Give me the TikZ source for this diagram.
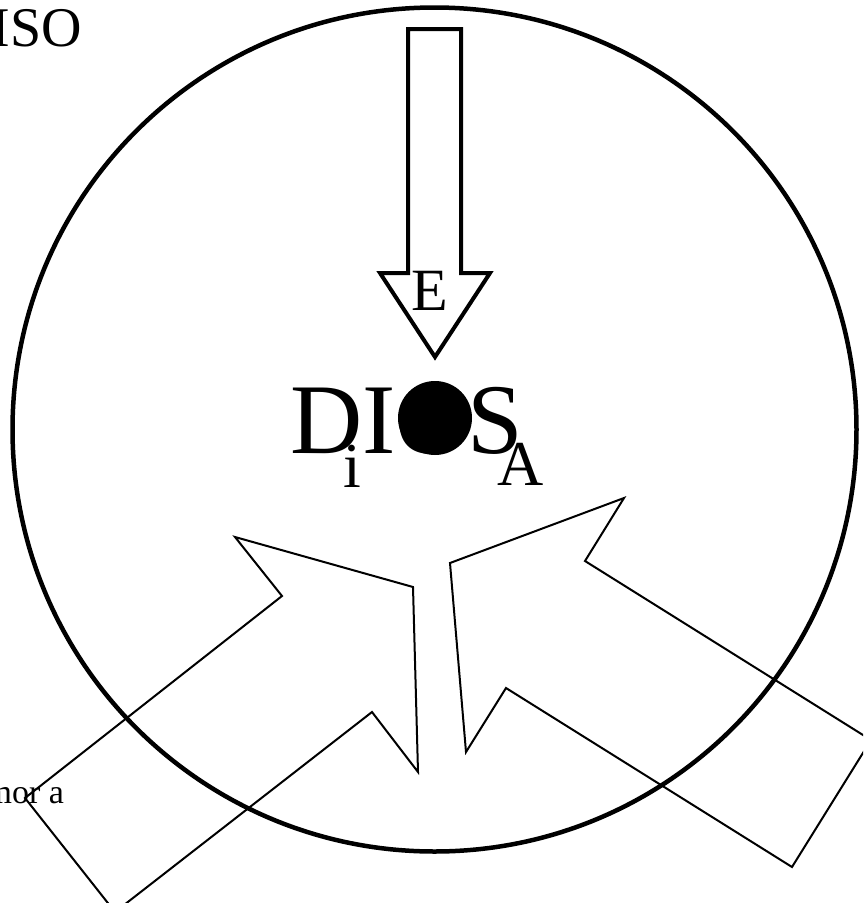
\documentclass[tikz,border=0pt]{standalone}
\usepackage{fontspec}
\setmainfont{Liberation Serif}
\usepackage{tikz}
\usetikzlibrary{positioning}

\begin{document}
\begin{tikzpicture}[x=1pt, y=-1pt,
  word/.style={inner sep=0pt, outer sep=0pt},
  bigarrow/.style={draw, line width=2pt, line join=miter},
  downarrow/.style={draw, line width=4pt, line join=miter}
]
  \clip (0,0) rectangle (863,903);
  \draw[line width=4.5pt] (434.5,429.5) circle[radius=422pt];
  \draw[downarrow] (408,29) -- (461,29) -- (461,273) -- (490,273) -- (435,357)
    -- (380,273) -- (408,273) -- cycle;
  \draw[bigarrow] (235,537) -- (413,587) -- (418,772) -- (372,712) -- (115,912)
    -- (25,798) -- (282,596) -- cycle;
  \draw[bigarrow] (624,498) -- (585,561) -- (871,740) -- (792,867) -- (506,688)
    -- (466,752) -- (450,563) -- cycle;
  \node[word, anchor=base west, font=\fontsize{100}{110}\selectfont] (dios) at (290,453) {DIOS};
  \fill (435,418) circle[radius=37pt];
  \node[word, anchor=base, font=\fontsize{60}{70}\selectfont] (e) at (430,310) {E};
  \node[word, anchor=base, font=\fontsize{64}{70}\selectfont] (i) at (352,487) {i};
  \node[word, anchor=base, font=\fontsize{64}{70}\selectfont] (a) at (521,485) {A};
  \node[word, anchor=base east, font=\fontsize{56}{60}\selectfont] (iso) at (82,46) {ISO};
  \node[word, anchor=base east, font=\fontsize{34}{40}\selectfont] (amor) at (64,803) {mor a};
\end{tikzpicture}
\end{document}
